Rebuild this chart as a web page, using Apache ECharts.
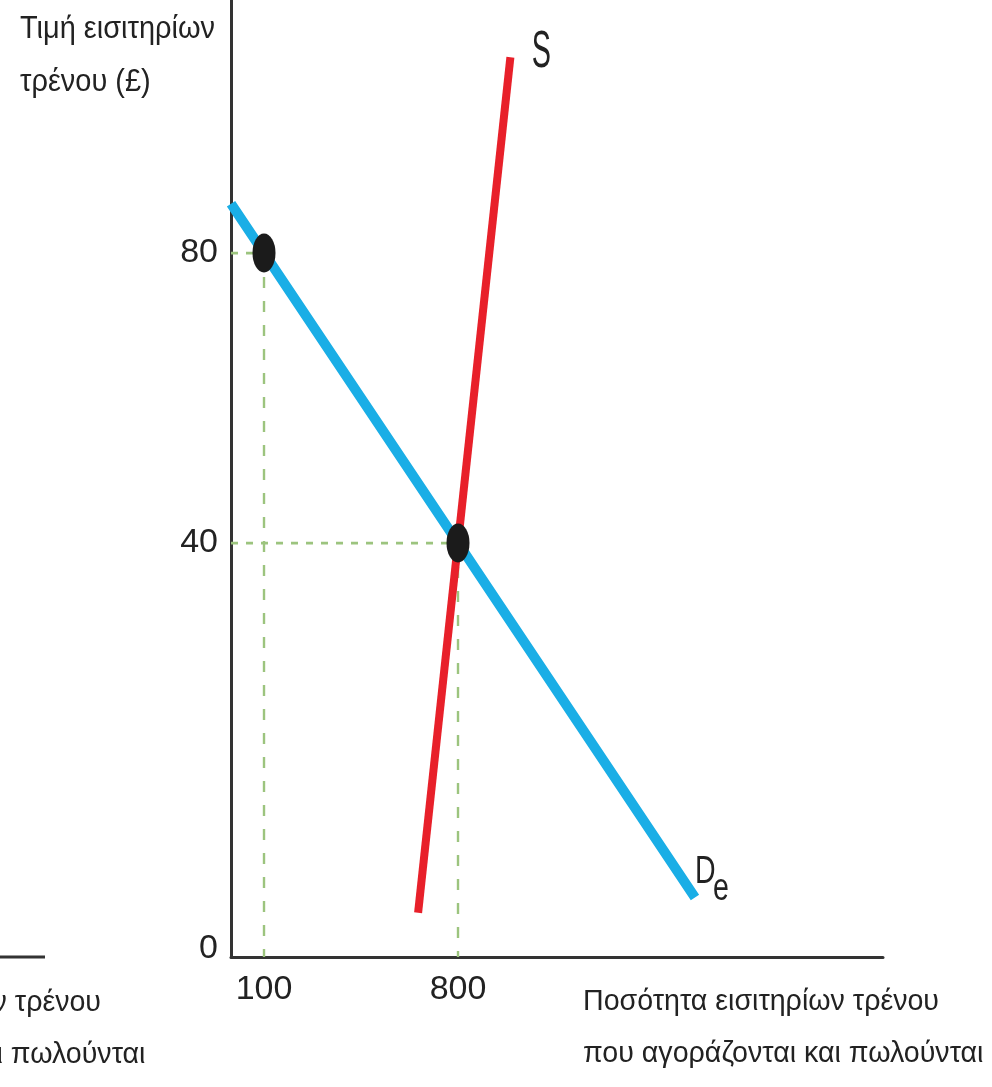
<!DOCTYPE html>
<html><head><meta charset="utf-8">
<script src="https://cdn.jsdelivr.net/npm/echarts@6/dist/echarts.min.js"></script>
<style>html,body{margin:0;padding:0;background:#fff}#c{width:992px;height:1087px}</style>
</head><body><div id="c"></div>
<script>
const FONT = '"Liberation Sans", Arial, sans-serif';
// Data
const demandQ = [-19, 100, 800, 1655];
const demandP = [86.8, 80, 40, -8.9];
const supplyQ = [656, 989];
const supplyP = [-11, 107];
const pointQ = [100, 800];
const pointP = [80, 40];
const xTickValues = [100, 800];
const xTickLabels = ['100', '800'];
const yTickValues = [-16, 40, 80];
const yTickLabels = ['0', '40', '80'];
const yAxisTitle = ['Τιμή εισιτηρίων', 'τρένου (£)'];
const xAxisTitle = ['Ποσότητα εισιτηρίων τρένου', 'που αγοράζονται και πωλούνται'];
const supplyName = 'S';
const demandName = 'D';
const demandSub = 'e';

const X_MIN = -19.1, X_MAX = 2333.5, Y_MIN = -17.1, Y_MAX = 114.9;
const zip = (a, b) => a.map((v, i) => [v, b[i]]);

const GUIDE = '#9cc47e';
const hGuides = pointQ.map((q, i) => ({
  type: 'line', silent: true, symbol: 'none', z: 1,
  data: [[X_MIN, pointP[i]], [q, pointP[i]]],
  lineStyle: { color: GUIDE, width: 2.8, type: [7, 8] }
}));
const vGuides = pointQ.map((q, i) => ({
  type: 'line', silent: true, symbol: 'none', z: 1,
  data: [[q, pointP[i]], [q, Y_MIN]],
  lineStyle: { color: GUIDE, width: 2.4, type: [11, 13] }
}));

const chart = echarts.init(document.getElementById('c'), null, { renderer: 'canvas' });
chart.setOption({
  animation: false,
  backgroundColor: '#ffffff',
  grid: { left: 231, right: 109, top: 0, bottom: 130, containLabel: false },
  xAxis: {
    type: 'value', min: X_MIN, max: X_MAX,
    axisLine: { show: true, onZero: false, lineStyle: { color: '#333', width: 3 } },
    axisTick: { show: false }, splitLine: { show: false },
    axisLabel: {
      customValues: xTickValues,
      formatter: v => xTickLabels[xTickValues.indexOf(v)] ?? '',
      fontFamily: FONT, fontSize: 34, color: '#222', margin: 16
    }
  },
  yAxis: {
    type: 'value', min: Y_MIN, max: Y_MAX,
    axisLine: { show: true, onZero: false, lineStyle: { color: '#333', width: 3 } },
    axisTick: { show: false }, splitLine: { show: false },
    axisLabel: {
      customValues: yTickValues,
      formatter: v => yTickLabels[yTickValues.indexOf(v)] ?? '',
      fontFamily: FONT, fontSize: 34, color: '#222', margin: 13
    }
  },
  series: [
    ...hGuides, ...vGuides,
    {
      name: 'Demand', type: 'line', symbol: 'none', z: 3,
      data: zip(demandQ, demandP),
      lineStyle: { color: '#1aaee6', width: 10, cap: 'butt' }
    },
    {
      name: 'Supply', type: 'line', symbol: 'none', z: 4,
      data: zip(supplyQ, supplyP),
      lineStyle: { color: '#e8202a', width: 8, cap: 'butt' }
    },
    {
      type: 'scatter', z: 5, symbol: 'circle', symbolSize: [23, 39],
      data: zip(pointQ, pointP),
      itemStyle: { color: '#1b1b1b', opacity: 1 }
    }
  ]
});

// text helpers (fit condensed look)
const ctx = document.createElement('canvas').getContext('2d');
function fitScale(text, size, target) {
  ctx.font = size + 'px ' + FONT;
  return target / ctx.measureText(text).width;
}
const toPx = p => chart.convertToPixel({ gridIndex: 0 }, p);

const sTop = toPx([supplyQ[supplyQ.length - 1], supplyP[supplyP.length - 1]]);
const dEnd = toPx([demandQ[demandQ.length - 1], demandP[demandP.length - 1]]);

const titleScale = fitScale(yAxisTitle[0], 32, 195);
const xNameScale = fitScale(xAxisTitle[0], 30, 356);
const txt = (x, y, text, size, sx, sy, lh, align, va) => ({
  type: 'text', x, y, scaleX: sx, scaleY: sy, z: 10,
  style: { text, fontFamily: FONT, fontSize: size, lineHeight: lh, fill: '#222', align, verticalAlign: va }
});

chart.setOption({
  graphic: [
    txt(20, 3, yAxisTitle.join('\n'), 32, titleScale, 1, 53, 'left', 'top'),
    txt(583, 976, xAxisTitle.join('\n'), 30, xNameScale, 1, 52, 'left', 'top'),
    txt(-255, 977, xAxisTitle.join('\n'), 30, xNameScale, 1, 52, 'left', 'top'),
    txt(sTop[0] + 31, sTop[1] - 5, supplyName, 40, 0.72, 1.3, 40, 'center', 'middle'),
    txt(dEnd[0], dEnd[1] - 25, demandName, 38, 0.75, 1, 38, 'left', 'middle'),
    txt(dEnd[0] + 18, dEnd[1] - 8, demandSub, 38, 0.75, 1, 38, 'left', 'middle'),
    { type: 'line', shape: { x1: 0, y1: 957, x2: 45, y2: 957 }, style: { stroke: '#333', lineWidth: 3 } }
  ]
});
</script></body></html>
